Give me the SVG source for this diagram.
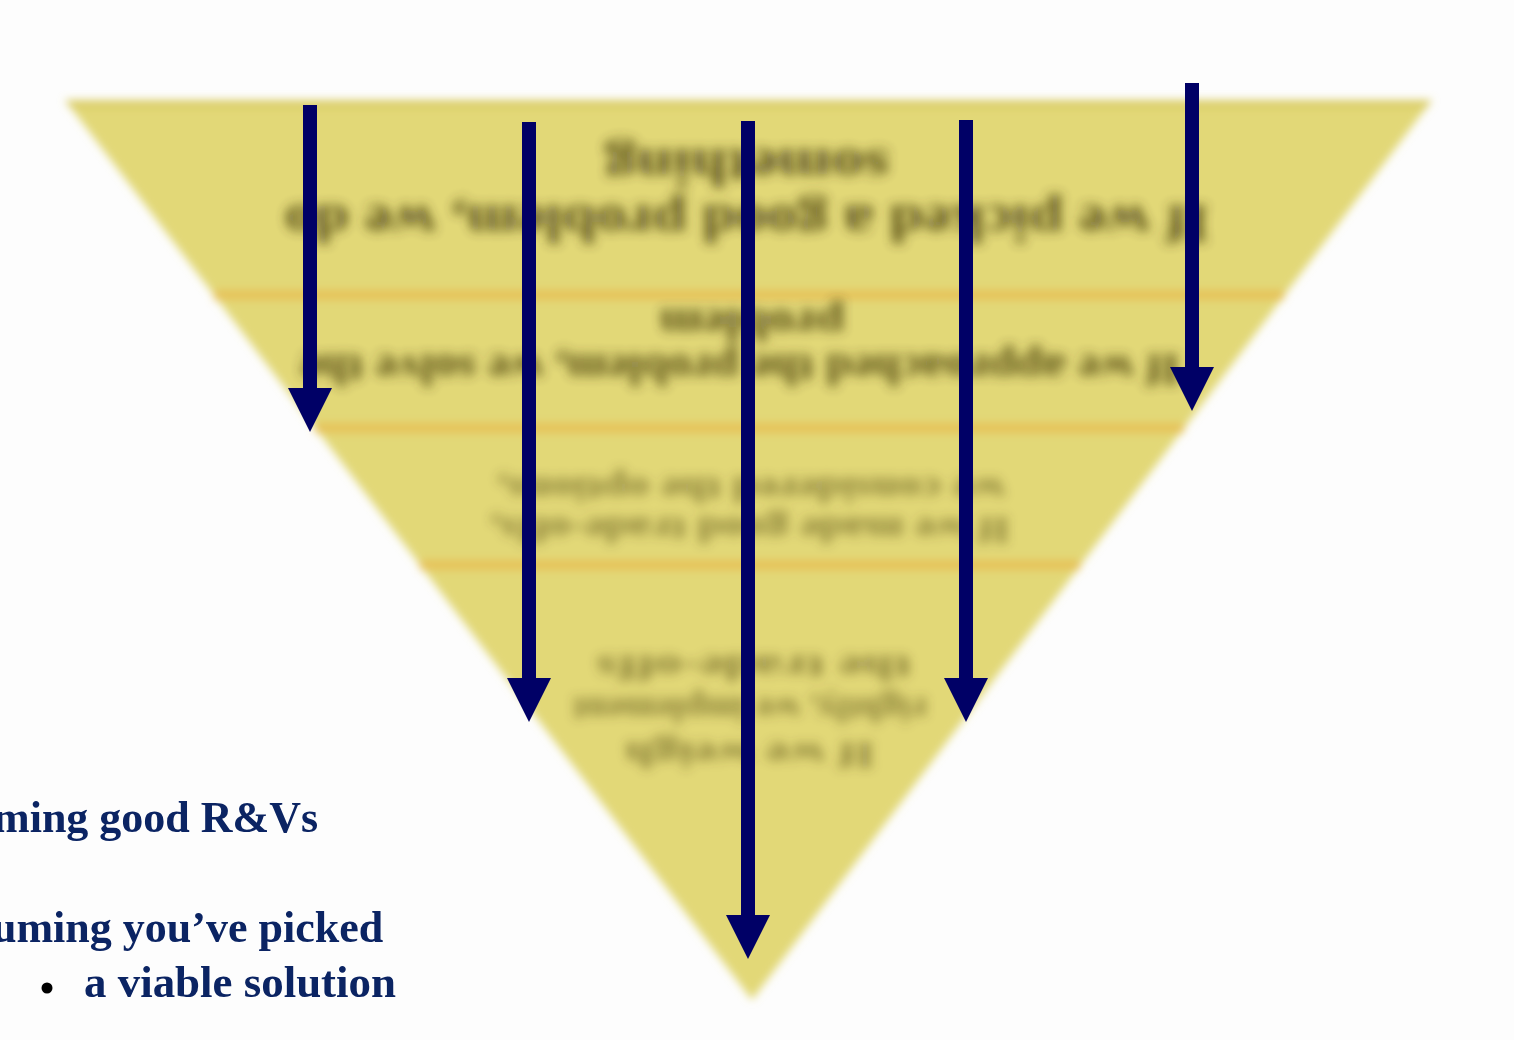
<svg xmlns="http://www.w3.org/2000/svg" width="1514" height="1040" viewBox="0 0 1514 1040">
<style>
.blurtext{font-family:"Liberation Serif","Times New Roman",serif;font-weight:bold;fill:#3e3508;text-anchor:middle}
.cap{font-family:"Liberation Serif","Times New Roman",serif;font-weight:bold;font-size:44px;fill:#0b2463}
.sep{stroke:#e6c258;stroke-width:10}
.shaft{stroke:#000066;stroke-width:14;fill:none;marker-end:url(#head)}
</style>
<defs>
<filter id="blurTri" x="-5%" y="-5%" width="110%" height="110%"><feGaussianBlur stdDeviation="4"/></filter>
<filter id="blurTxt" x="-10%" y="-40%" width="120%" height="180%"><feGaussianBlur stdDeviation="6"/></filter>
<marker id="head" viewBox="0 0 44 44" markerWidth="44" markerHeight="44" refX="0" refY="22" orient="auto" markerUnits="userSpaceOnUse">
<path d="M0,0 L44,22 L0,44 z" fill="#000066"/>
</marker>
</defs>
<rect width="1514" height="1040" fill="#fdfdfd"/>
<g id="triangle" filter="url(#blurTri)">
<polygon points="65,100 1432,100 752,1000" fill="#e2d877"/>
<polygon points="65,100 1432,100 1426,108 71,108" fill="#dacd68"/>
<line class="sep" x1="214" y1="295" x2="1284" y2="295"/>
<line class="sep" x1="315" y1="428" x2="1184" y2="428"/>
<line class="sep" x1="420" y1="565" x2="1080" y2="565"/>
</g>
<g id="level1" filter="url(#blurTxt)" opacity="0.85">
<text class="blurtext" x="747" y="150" font-size="52" textLength="285" lengthAdjust="spacingAndGlyphs" transform="rotate(180 747 150)">something</text>
<text class="blurtext" x="747" y="206" font-size="52" textLength="925" lengthAdjust="spacingAndGlyphs" transform="rotate(180 747 206)">If we picked a good problem, we do</text>
</g>
<g id="level2" filter="url(#blurTxt)" opacity="0.85">
<text class="blurtext" x="752" y="310" font-size="44" textLength="185" lengthAdjust="spacingAndGlyphs" transform="rotate(180 752 310)">problem</text>
<text class="blurtext" x="740" y="355" font-size="44" textLength="880" lengthAdjust="spacingAndGlyphs" transform="rotate(180 740 355)">If we approached the problem, we solve the</text>
</g>
<g id="level3" filter="url(#blurTxt)" opacity="0.55">
<text class="blurtext" x="751" y="478" font-size="36" textLength="508" lengthAdjust="spacingAndGlyphs" transform="rotate(180 751 478)">we considered the options,</text>
<text class="blurtext" x="750" y="518" font-size="36" textLength="520" lengthAdjust="spacingAndGlyphs" transform="rotate(180 750 518)">If we made good trade-offs,</text>
</g>
<g id="level4" filter="url(#blurTxt)" opacity="0.55">
<text class="blurtext" x="754" y="656" font-size="36" textLength="315" lengthAdjust="spacingAndGlyphs" transform="rotate(180 754 656)">the trade-offs</text>
<text class="blurtext" x="750" y="698" font-size="36" textLength="355" lengthAdjust="spacingAndGlyphs" transform="rotate(180 750 698)">rightly, we implement</text>
<text class="blurtext" x="750" y="743" font-size="36" textLength="250" lengthAdjust="spacingAndGlyphs" transform="rotate(180 750 743)">If we weigh</text>
</g>
<g id="connectors">
<line class="shaft" x1="310" y1="105" x2="310" y2="388"/>
<line class="shaft" x1="529" y1="122" x2="529" y2="678"/>
<line class="shaft" x1="748" y1="121" x2="748" y2="915"/>
<line class="shaft" x1="966" y1="120" x2="966" y2="678"/>
<line class="shaft" x1="1192" y1="83" x2="1192" y2="367"/>
</g>
<g id="caption">
<text class="cap" x="-7" y="832">ming good R&amp;Vs</text>
<text class="cap" x="-8" y="942">uming you’ve picked</text>
<circle cx="47" cy="988" r="5.5" fill="#000"/>
<text class="cap" x="84" y="997" textLength="312" lengthAdjust="spacingAndGlyphs">a viable solution</text>
</g>
</svg>
